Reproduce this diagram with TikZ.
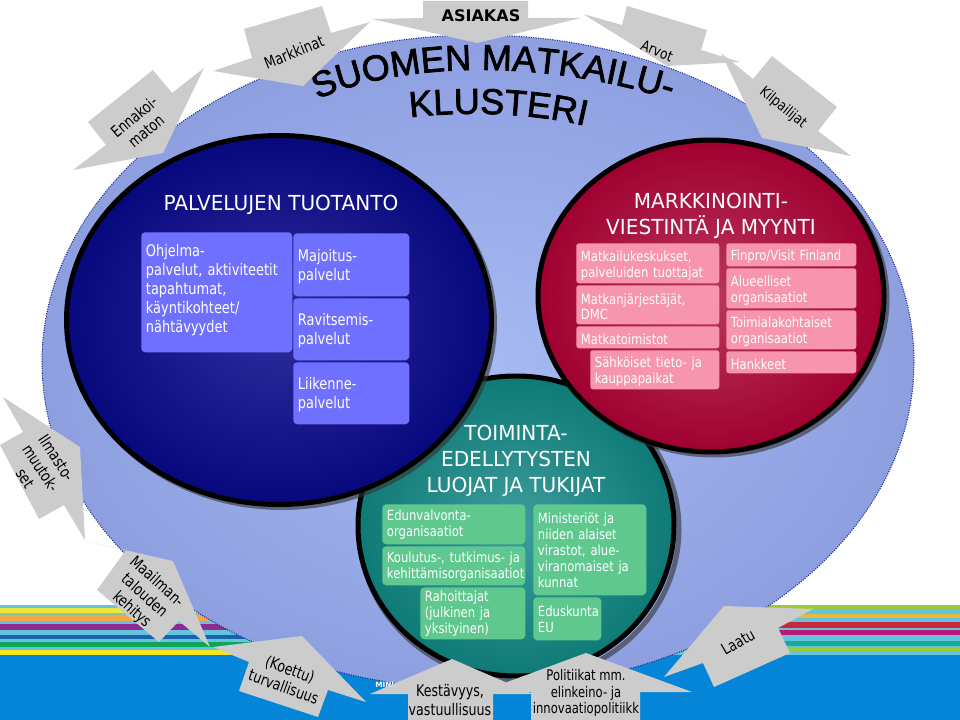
\documentclass[tikz,border=0pt]{standalone}
\usepackage{fontspec}
\usetikzlibrary{decorations.text}
\setmainfont{DejaVu Sans}
\newfontfamily\titlef[FakeBold=2]{Liberation Sans}
\newfontfamily\boldf{DejaVu Sans Bold}
\newfontfamily\headf[FakeStretch=0.97]{DejaVu Sans}
\newfontfamily\narrowf[FakeStretch=0.79]{DejaVu Sans}
\newfontfamily\navyf[FakeStretch=0.81]{DejaVu Sans}
\newfontfamily\midf[FakeStretch=0.83]{DejaVu Sans}
\definecolor{gry}{HTML}{CCCCCC}
\definecolor{seablue}{HTML}{0585D8}
\definecolor{lb}{HTML}{66C3E0}
\definecolor{ring}{HTML}{1A2A9A}
\definecolor{bigin}{HTML}{A6BAF3}
\definecolor{bigout}{HTML}{8E9FE0}
\definecolor{navyin}{HTML}{2E2E9E}
\definecolor{navyout}{HTML}{08087E}
\definecolor{redin}{HTML}{B8385C}
\definecolor{redout}{HTML}{A00030}
\definecolor{grnin}{HTML}{3E9C9C}
\definecolor{grnout}{HTML}{0E7A76}
\definecolor{bluebox}{HTML}{7070FF}
\definecolor{pinkbox}{HTML}{F795AE}
\definecolor{greenbox}{HTML}{5FC88F}
\definecolor{syel}{HTML}{EFE83C}
\definecolor{sgrn}{HTML}{8FC69C}
\definecolor{sora}{HTML}{F5A54A}
\definecolor{spur}{HTML}{8E2A92}
\definecolor{sdbl}{HTML}{1763AC}
\definecolor{sgre}{HTML}{0EA55B}
\definecolor{syl2}{HTML}{F5E61E}
\definecolor{slim}{HTML}{9BCB3C}
\definecolor{sgol}{HTML}{E6B83C}
\definecolor{sred}{HTML}{C8283C}
\definecolor{smag}{HTML}{B81A78}
\definecolor{stea}{HTML}{12AE96}
\tikzset{
  x=0.75pt,y=-0.75pt,
  callout/.style={fill=gry,draw=none},
  lbl/.style={font=\narrowf\fontsize{12}{14}\selectfont,align=center,text=black,inner sep=0pt},
  rim/.style={draw=black,line width=3.75pt},
  shadowrim/.style={draw=black!60!gray,line width=3.75pt,opacity=0.6},
  navybox/.style={fill=bluebox,rounded corners=3pt,text=white,align=left,inner sep=0pt,inner xsep=3.5pt,font=\navyf\fontsize{12}{14.3}\selectfont},
  redbox/.style={fill=pinkbox,rounded corners=2pt,text=white,align=left,inner sep=0pt,inner xsep=3.5pt,font=\midf\fontsize{10.5}{11.8}\selectfont},
  grnbox/.style={fill=greenbox,rounded corners=3pt,text=white,align=left,inner sep=0pt,inner xsep=2.5pt,font=\midf\fontsize{10.5}{12}\selectfont},
  headline/.style={text=white,align=center,inner sep=0pt,font=\headf\fontsize{15.5}{19.5}\selectfont},
}
\newcommand{\liftnavybox}{11.5pt}
\newcommand{\liftredbox}{11pt}
\newcommand{\liftgrnbox}{9pt}
\newcommand{\bx}[7]{%
  \pgfmathsetmacro\bw{(#4-#2)*0.75}%
  \pgfmathsetmacro\bh{(#5-#3)*0.75}%
  \pgfmathsetmacro\tw{\bw-7}%
  \node[#6,anchor=north west,minimum width=\bw pt,minimum height=\bh pt,text width=\tw pt] (#1) at (#2,#3) {\rule{0pt}{\csname lift#6\endcsname}#7};}
\newcommand{\stripe}[4]{\fill[#4] (#1,#2) rectangle +(480,#3-#2);}
\begin{document}
\begin{tikzpicture}
\useasboundingbox (0,0) rectangle (960,720);
\fill[white] (0,0) rectangle (960,720);
% sea
\fill[seablue] (0,655) rectangle (960,720);
\fill[lb] (0,605) rectangle (960,655);
% left stripes
\stripe{0}{608}{613}{syel}
\stripe{0}{613}{616}{sgrn}
\stripe{0}{616}{621}{sora}
\stripe{0}{624}{630}{spur}
\stripe{0}{635}{639}{sdbl}
\stripe{0}{642}{647}{sgre}
\stripe{0}{650}{655}{syl2}
% right stripes
\stripe{480}{606}{609}{slim}
\stripe{480}{614}{618}{sgol}
\stripe{480}{622}{628}{sred}
\stripe{480}{630}{635}{smag}
\stripe{480}{641}{646}{stea}
\stripe{480}{648}{651}{slim}
% big ellipse
\shade[inner color=bigin,outer color=bigout] (478,362) ellipse [x radius=436,y radius=327];
\draw[ring,line width=0.8pt,densely dotted] (478,362) ellipse [x radius=436,y radius=327];
% green circle
\draw[shadowrim] (519,529) ellipse [x radius=160,y radius=152];
\shade[inner color=grnin,outer color=grnout,rim] (516,526) ellipse [x radius=158,y radius=150];
% navy circle
\draw[shadowrim] (282,323) ellipse [x radius=212.5,y radius=184.5];
\shade[inner color=navyin,outer color=navyout,rim] (279,320) ellipse [x radius=212.5,y radius=184.5];
% red circle
\draw[shadowrim] (714,299) ellipse [x radius=173,y radius=156];
\shade[inner color=redin,outer color=redout,rim] (711,296) ellipse [x radius=173,y radius=156];
% titles
\path[decorate,decoration={text along path,text align=center,text format delimiters={|}{|},
  text={|\titlef\fontsize{27}{30}\selectfont|SUOMEN MATKAILU-}}]
  (316,100) .. controls (400,62) and (540,58) .. (672,100);
\path[decorate,decoration={text along path,text align=center,text format delimiters={|}{|},
  text={|\titlef\fontsize{27}{30}\selectfont|KLUSTERI}}]
  (405,118) .. controls (460,111) and (530,112) .. (590,127);
% headlines
\node[headline] (tuotanto) at (281,205) {PALVELUJEN TUOTANTO};
\node[headline] (markkinointi) at (711,216) {MARKKINOINTI-\\VIESTINTÄ JA MYYNTI};
\node[headline] (toiminta) at (516,461) {TOIMINTA-\\EDELLYTYSTEN\\LUOJAT JA TUKIJAT};
% navy boxes
\bx{ohjelma}{141}{232}{292}{352}{navybox}{Ohjelma-\\palvelut, aktiviteetit\\tapahtumat,\\käyntikohteet/\\nähtävyydet\\[-6pt]\mbox{}}
\bx{majoitus}{293}{233}{409}{296}{navybox}{Majoitus-\\palvelut}
\bx{ravitsemis}{293}{298}{409}{360}{navybox}{Ravitsemis-\\palvelut}
\bx{liikenne}{293}{362}{409}{424}{navybox}{Liikenne-\\palvelut}
% red boxes
\bx{keskukset}{576}{243}{719}{283}{redbox}{Matkailukeskukset,\\palveluiden tuottajat}
\bx{jarjestajat}{576}{285}{719}{324}{redbox}{Matkanjärjestäjät,\\DMC}
\bx{toimistot}{576}{326}{719}{348}{redbox}{Matkatoimistot}
\bx{sahkoiset}{590}{350}{719}{389}{redbox}{Sähköiset tieto- ja\\kauppapaikat}
\bx{finpro}{726}{243}{856}{266}{redbox}{Finpro/Visit Finland}
\bx{alueelliset}{726}{268}{856}{308}{redbox}{Alueelliset\\organisaatiot}
\bx{toimiala}{726}{310}{856}{349}{redbox}{Toimialakohtaiset\\organisaatiot}
\bx{hankkeet}{726}{351}{856}{373}{redbox}{Hankkeet}
% green boxes
\bx{edunvalvonta}{382}{504}{525}{544}{grnbox}{Edunvalvonta-\\organisaatiot}
\bx{koulutus}{382}{546}{525}{585}{grnbox}{Koulutus-, tutkimus- ja\\kehittämisorganisaatiot}
\bx{rahoittajat}{420}{587}{525}{639}{grnbox}{Rahoittajat\\(julkinen ja\\yksityinen)}
\bx{ministeriot}{533}{504}{646}{595}{grnbox}{Ministeriöt ja\\niiden alaiset\\virastot, alue-\\viranomaiset ja\\kunnat}
\bx{eduskunta}{533}{597}{601}{640}{grnbox}{Eduskunta\\EU}
% small white text
\node[anchor=west,text=white,inner sep=0pt,font=\boldf\fontsize{5.5}{6}\selectfont] (mini) at (375,685) {MINI};
% callouts
\fill[callout] (423,1) -- (528,1) -- (528,18) -- (581,18) -- (477,43) -- (372,19) -- (423,18) -- cycle;
\fill[callout] (244,29) -- (322,6) -- (331,33) -- (370,22) -- (303,86) -- (213,71) -- (252,58) -- cycle;
\fill[callout] (88,122) -- (153,70) -- (172,93) -- (204,68) -- (163,153) -- (73,170) -- (106,145) -- cycle;
\fill[callout] (627,6) -- (707,30) -- (701,50) -- (740,62) -- (667,66) -- (583,14) -- (622,25) -- cycle;
\fill[callout] (772,56) -- (837,107) -- (818,131) -- (851,156) -- (762,138) -- (721,53) -- (753,79) -- cycle;
\fill[callout] (3,397) -- (80,447) -- (85,540) -- (64,505) -- (39,519) -- (0,445) -- (23,432) -- cycle;
\fill[callout] (85,541) -- (173,561) -- (210,647) -- (179,621) -- (159,642) -- (97,590) -- (126,550) -- cycle;
\fill[callout] (213,647) -- (302,636) -- (366,702) -- (328,690) -- (318,717) -- (239,691) -- (249,662) -- cycle;
\fill[callout] (664,677) -- (703,663) -- (714,687) -- (790,653) -- (778,628) -- (813,609) -- (724,606) -- cycle;
\fill[callout] (452,659) -- (533,694) -- (493,694) -- (493,720) -- (408,720) -- (408,694) -- (370,694) -- cycle;
\fill[callout] (586,653) -- (692,692) -- (640,692) -- (640,720) -- (531,720) -- (531,692) -- (480,692) -- cycle;
% callout labels
\node[font=\boldf\fontsize{12}{14}\selectfont,inner sep=0pt] (asiakas) at (481,16) {ASIAKAS};
\node[lbl,rotate=22] (markkinat) at (294,52) {Markkinat};
\node[lbl,rotate=40] (ennakoi) at (140,124) {Ennakoi-\\maton};
\node[lbl,rotate=-22,font=\midf\fontsize{11}{13}\selectfont] (arvot) at (657,51) {Arvot};
\node[lbl,rotate=-39,font=\midf\fontsize{11}{13}\selectfont] (kilpailijat) at (783,108) {Kilpailijat};
\node[lbl,rotate=-57] (ilmasto) at (41,468) {Ilmasto-\\muutok-\\set};
\node[lbl,rotate=-42] (maailman) at (144,596) {Maailman-\\talouden\\kehitys};
\node[lbl,rotate=-20] (koettu) at (287,678) {(Koettu)\\turvallisuus};
\node[lbl,rotate=30] (laatu) at (738,642) {Laatu};
\node[lbl] (kestavyys) at (450,700) {Kestävyys,\\vastuullisuus};
\node[lbl,font=\narrowf\fontsize{11}{12.5}\selectfont] (politiikat) at (586,693) {Politiikat mm.\\elinkeino- ja\\innovaatiopolitiikk};
\end{tikzpicture}
\end{document}
